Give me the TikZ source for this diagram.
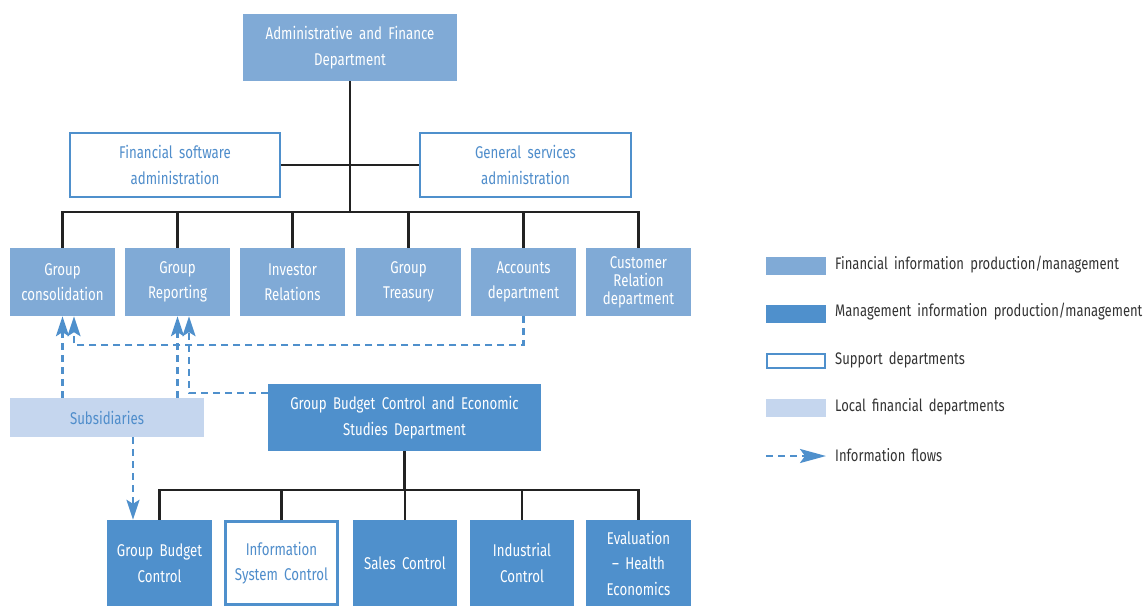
\documentclass[tikz,border=0pt]{standalone}
\usepackage{fontspec}
\setmainfont{Fira Sans}[FakeStretch=0.78,WordSpace=1.8]
\usetikzlibrary{arrows.meta}
\definecolor{finblue}{HTML}{80AAD6}
\definecolor{mgmtblue}{HTML}{4F90CC}
\definecolor{localblue}{HTML}{C5D6EE}
\definecolor{txtblue}{HTML}{4F8DCB}
\definecolor{linegray}{HTML}{222222}
\definecolor{legtext}{HTML}{333333}
\tikzset{
  box/.style={rectangle, inner sep=0pt, align=center, font=\fontsize{17}{25.5}\selectfont},
  finbox/.style={box, fill=finblue, text=white},
  mgmtbox/.style={box, fill=mgmtblue, text=white},
  supbox/.style={box, draw=mgmtblue, line width=2.5pt, fill=white, text=txtblue},
  localbox/.style={box, fill=localblue, text=txtblue},
  org/.style={draw=linegray, line width=2.5pt},
  flow/.style={draw=mgmtblue, line width=2.5pt, dash pattern=on 7pt off 5pt},
  flowarrow/.style={flow, -{Stealth[length=20pt,width=13pt,inset=4pt]}},
  legtxt/.style={anchor=west, inner sep=0pt, text=legtext, font=\fontsize{16.7}{20}\selectfont}
}
\begin{document}
\begin{tikzpicture}[x=1pt,y=-1pt]
\useasboundingbox (0,0) rectangle (1147,606);
% top
\node[finbox, minimum width=214pt, minimum height=67pt] (admin) at (350,47.5) {Administrative and Finance\\Department};
\node[supbox, minimum width=210pt, minimum height=64pt] (fsw) at (175,165) {Financial software\\administration};
\node[supbox, minimum width=211pt, minimum height=64pt] (gsa) at (525.5,165) {General services\\administration};
% row 2
\node[finbox, minimum width=105pt, minimum height=68pt] (gc) at (62.5,282) {Group\\consolidation};
\node[finbox, minimum width=105pt, minimum height=68pt] (gr) at (177.5,282) {Group\\Reporting};
\node[finbox, minimum width=105pt, minimum height=68pt] (ir) at (292.5,282) {Investor\\Relations};
\node[finbox, minimum width=105pt, minimum height=68pt] (gt) at (408.5,282) {Group\\Treasury};
\node[finbox, minimum width=105pt, minimum height=68pt] (ad) at (523.5,282) {Accounts\\department};
\node[finbox, minimum width=105pt, minimum height=68pt, font=\fontsize{17}{18}\selectfont] (cr) at (638.5,282) {Customer\\Relation\\department};
% middle
\node[localbox, minimum width=194pt, minimum height=39pt] (sub) at (107,417.5) {Subsidiaries};
\node[mgmtbox, minimum width=273pt, minimum height=67pt] (gbd) at (404.5,417.5) {Group Budget Control and Economic\\Studies Department};
% bottom row
\node[mgmtbox, minimum width=105pt, minimum height=86pt] (gbc) at (159.5,563) {Group Budget\\Control};
\node[supbox, minimum width=112pt, minimum height=83pt] (isc) at (281.5,563) {Information\\System Control};
\node[mgmtbox, minimum width=104pt, minimum height=86pt] (sc) at (405,563) {Sales Control};
\node[mgmtbox, minimum width=104pt, minimum height=86pt] (ic) at (522,563) {Industrial\\Control};
\node[mgmtbox, minimum width=105pt, minimum height=86pt] (ev) at (638.5,563) {Evaluation\\-- Health\\Economics};
% org lines top
\coordinate (bus1) at (350,212);
\draw[org] (admin.south) -- (bus1);
\draw[org] (fsw.east) -- (gsa.west);
\draw[org] (gc.north) -- (gc.north |- bus1) -- (cr.north |- bus1) -- (cr.north);
\foreach \n in {gr,ir,gt,ad} \draw[org] (\n.north) -- (\n.north |- bus1);
% org lines bottom
\coordinate (bus2) at (404.5,490);
\draw[org] (gbd.south) -- (bus2);
\draw[org] (gbc.north) -- (gbc.north |- bus2) -- (ev.north |- bus2) -- (ev.north);
\foreach \n in {isc,sc,ic} \draw[org] (\n.north) -- (\n.north |- bus2);
% information flows
\coordinate (f1) at (74,345);
\coordinate (g1) at (189,393);
\coordinate (s1) at (133,0);
\draw[flowarrow] (ad.south) -- (ad.south |- f1) -- (f1) -- (f1 |- gc.south);
\draw[flowarrow] (gbd.west |- g1) -- (g1) -- (g1 |- gr.south);
\draw[flowarrow] (sub.north -| gc.south) -- (gc.south);
\draw[flowarrow] (sub.north -| gr.south) -- (gr.south);
\draw[flowarrow] (sub.south -| s1) -- (gbc.north -| s1);
% legend
\node[box, fill=finblue, minimum width=60pt, minimum height=18pt] (l1) at (796,266) {};
\node[box, fill=mgmtblue, minimum width=60pt, minimum height=18pt] (l2) at (796,314) {};
\node[box, draw=mgmtblue, line width=2.5pt, fill=white, minimum width=58pt, minimum height=14pt] (l3) at (796,361) {};
\node[box, fill=localblue, minimum width=60pt, minimum height=18pt] (l4) at (796,408) {};
\coordinate (la) at (766,456);
\coordinate (lb) at (826,456);
\draw[flow, -{Stealth[length=26pt,width=14pt,inset=5pt]}] (la) -- (lb);
\node[legtxt] (t1) at (835,265) {Financial information production/management};
\node[legtxt] (t2) at (835,312) {Management information production/management};
\node[legtxt] (t3) at (835,360) {Support departments};
\node[legtxt] (t4) at (835,407) {Local financial departments};
\node[legtxt] (t5) at (835,455) {Information flows};
\end{tikzpicture}
\end{document}
